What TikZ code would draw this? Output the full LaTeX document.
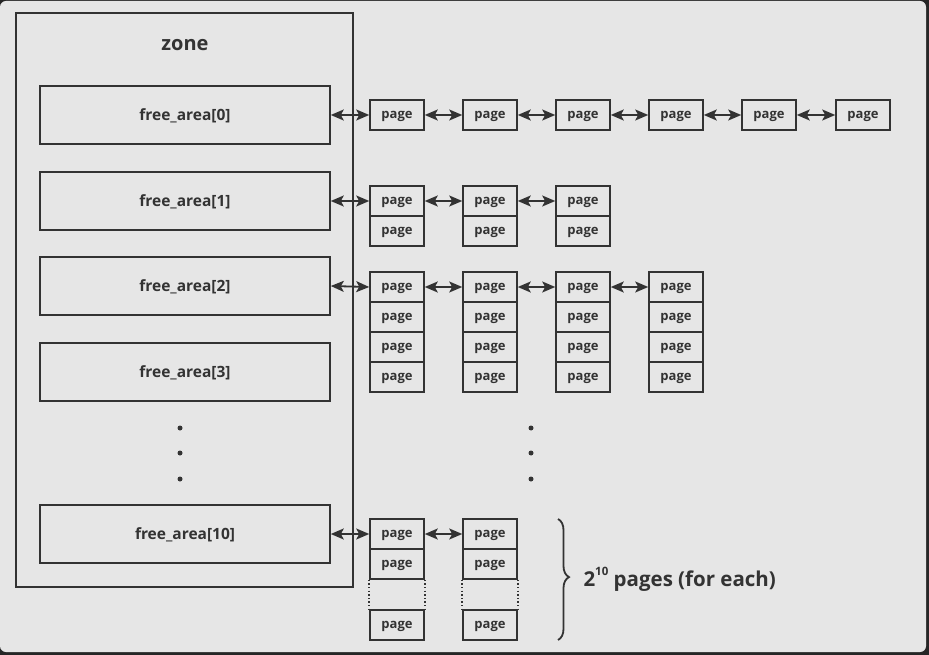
\documentclass[tikz,border=0pt]{standalone}
\usepackage{fontspec}
\setmainfont{Open Sans}
\usetikzlibrary{arrows.meta,decorations.pathreplacing}
\definecolor{bg}{HTML}{E6E6E6}
\definecolor{ink}{HTML}{333333}
\tikzset{
  tipend/.tip={Stealth[length=13pt,width=11pt,inset=3pt]}
}
\begin{document}
\begin{tikzpicture}[x=1pt,y=-1pt,
  areabox/.style={draw=ink,line width=1.6pt,minimum width=290pt,minimum height=58pt,inner sep=0pt,text depth=0pt,font=\bfseries\fontsize{15.5}{17}\selectfont,text=ink},
  pagebox/.style={draw=ink,line width=1.6pt,minimum width=54pt,minimum height=30pt,inner sep=0pt,text depth=0pt,font=\bfseries\fontsize{13}{14}\selectfont,text=ink},
  link/.style={draw=ink,line width=1.8pt,tipend-tipend},
  dotmark/.style={circle,fill=ink,inner sep=0pt,minimum size=5pt}]
\useasboundingbox (0,0) rectangle (929,655);
\fill[black!85] (0,0) rectangle (929,655);
\fill[bg,rounded corners=6pt] (0,1) rectangle (926,652);
% zone
\draw[ink,line width=1.6pt] (16,13) rectangle (353,587);
\node[font=\bfseries\fontsize{20}{22}\selectfont,text=ink] (zone) at (185,45) {zone};
\node[areabox] (a0) at (185,115) {free\_area[0]};
\node[areabox] (a1) at (185,201) {free\_area[1]};
\node[areabox] (a2) at (185,286) {free\_area[2]};
\node[areabox] (a3) at (185,372) {free\_area[3]};
\node[areabox] (a10) at (185,534) {free\_area[10]};
\foreach \y [count=\i] in {428,453,479}{
  \node[dotmark] (zd\i) at (180,\y) {};
  \node[dotmark] (pd\i) at (531,\y) {};
}
% row 0
\foreach \x [count=\i] in {397,490,583,676,769,863}{
  \node[pagebox] (r0c\i) at (\x,115) {page};
}
\draw[link] (a0) -- (r0c1);
\foreach \i [evaluate=\i as \j using int(\i+1)] in {1,...,5}{
  \draw[link] (r0c\i) -- (r0c\j);
}
% row 1
\foreach \x [count=\i] in {397,490,583}{
  \node[pagebox] (r1c\i) at (\x,201) {page};
  \node[pagebox] (r1b\i) at (\x,231) {page};
}
\draw[link] (a1) -- (r1c1);
\draw[link] (r1c1) -- (r1c2);
\draw[link] (r1c2) -- (r1c3);
% row 2
\foreach \x [count=\i] in {397,490,583,676}{
  \node[pagebox] (r2c\i) at (\x,287) {page};
  \node[pagebox] (r2b\i) at (\x,317) {page};
  \node[pagebox] (r2d\i) at (\x,347) {page};
  \node[pagebox] (r2e\i) at (\x,377) {page};
}
\draw[link] (a2.east) -- (r2c1.west);
\draw[link] (r2c1) -- (r2c2);
\draw[link] (r2c2) -- (r2c3);
\draw[link] (r2c3) -- (r2c4);
% row 10
\foreach \x [count=\i] in {397,490}{
  \node[pagebox] (r10c\i) at (\x,534) {page};
  \node[pagebox] (r10b\i) at (\x,564) {page};
  \node[pagebox] (r10z\i) at (\x,625) {page};
  \draw[ink,line width=1.6pt,dash pattern=on 1.4pt off 2.2pt] (r10b\i.south west) -- (r10z\i.north west);
  \draw[ink,line width=1.6pt,dash pattern=on 1.4pt off 2.2pt] (r10b\i.south east) -- (r10z\i.north east);
}
\draw[link] (a10.east) -- (r10c1.west);
\draw[link] (r10c1) -- (r10c2);
% brace
\coordinate (bt) at (558,519);
\coordinate (bb) at (558,640);
\draw[ink,line width=1.8pt,decorate,decoration={brace,amplitude=11pt,aspect=0.48}] (bt) -- (bb);
\node[anchor=west,text=ink,font=\bfseries\fontsize{20.5}{22}\selectfont] (lbl) at (580,579) {2\raisebox{1.0ex}{\fontsize{11.5}{12}\selectfont 10} pages (for each)};
\end{tikzpicture}
\end{document}
